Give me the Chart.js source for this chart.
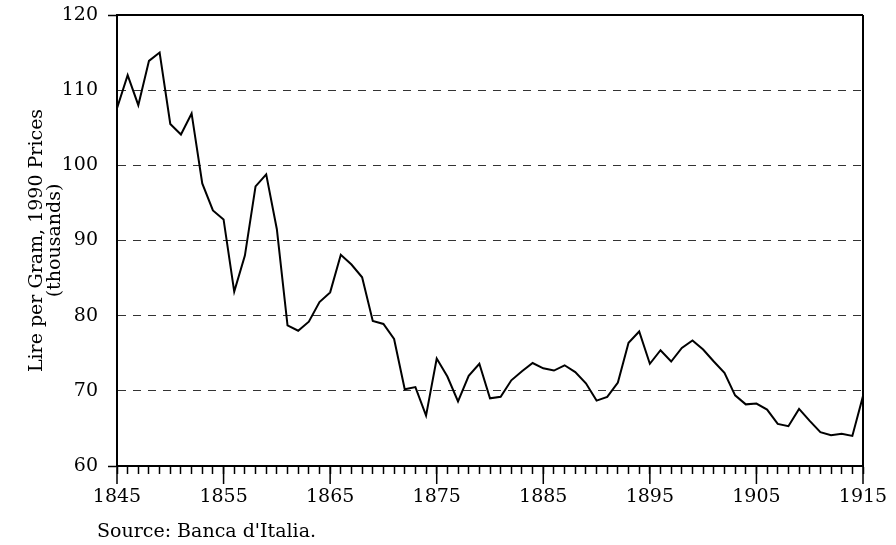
<!DOCTYPE html>
<html>
<head>
<meta charset="utf-8">
<script src="https://cdn.jsdelivr.net/npm/chart.js@4/dist/chart.umd.min.js"></script>
<style>
  html, body { margin: 0; padding: 0; background: #fff; }
  canvas { display: block; }
</style>
</head>
<body>
<canvas id="chart" width="896" height="545"></canvas>
<script>
// yearly series
const years = [
  1845, 1846, 1847, 1848, 1849, 1850, 1851, 1852, 1853, 1854,
  1855, 1856, 1857, 1858, 1859, 1860, 1861, 1862, 1863, 1864,
  1865, 1866, 1867, 1868, 1869, 1870, 1871, 1872, 1873, 1874,
  1875, 1876, 1877, 1878, 1879, 1880, 1881, 1882, 1883, 1884,
  1885, 1886, 1887, 1888, 1889, 1890, 1891, 1892, 1893, 1894,
  1895, 1896, 1897, 1898, 1899, 1900, 1901, 1902, 1903, 1904,
  1905, 1906, 1907, 1908, 1909, 1910, 1911, 1912, 1913, 1914,
  1915
];
const lirePerGram = [
  107.6, 112.0, 108.0, 113.9, 115.0, 105.5, 104.1, 106.9, 97.6, 94.0,
  92.8, 83.2, 88.0, 97.2, 98.8, 91.5, 78.7, 78.0, 79.2, 81.8,
  83.1, 88.1, 86.8, 85.1, 79.3, 78.9, 76.9, 70.2, 70.5, 66.7,
  74.3, 71.9, 68.6, 72.0, 73.6, 69.0, 69.2, 71.4, 72.6, 73.7,
  73.0, 72.7, 73.4, 72.5, 71.0, 68.7, 69.2, 71.1, 76.4, 77.9,
  73.6, 75.4, 73.9, 75.7, 76.7, 75.5, 73.9, 72.4, 69.4, 68.2,
  68.3, 67.5, 65.6, 65.3, 67.6, 66.0, 64.5, 64.1, 64.3, 64.0,
  69.3
];
const xLabelYears = [1845, 1855, 1865, 1875, 1885, 1895, 1905, 1915];
const yTicks = [60, 70, 80, 90, 100, 110, 120];
const yTitle = ['Lire per Gram, 1990 Prices', '(thousands)'];
const sourceNote = "Source: Banca d'Italia.";

const serif = 'DejaVu Serif';

// box on top and right, long ticks at labelled years, source line
const extras = {
  id: 'extras',
  afterDraw(chart) {
    const {ctx, chartArea: a, scales: {x}} = chart;
    ctx.save();
    ctx.strokeStyle = '#000';
    ctx.lineWidth = 2;
    ctx.beginPath();
    ctx.moveTo(a.left, a.top);
    ctx.lineTo(a.right, a.top);
    ctx.moveTo(a.right, a.top);
    ctx.lineTo(a.right, a.bottom);
    ctx.stroke();

    ctx.lineWidth = 1.5;
    ctx.beginPath();
    xLabelYears.forEach(yr => {
      const px = x.getPixelForValue(yr);
      ctx.moveTo(px, a.bottom);
      ctx.lineTo(px, a.bottom + 18);
    });
    ctx.stroke();

    ctx.fillStyle = '#000';
    ctx.font = '19px "' + serif + '"';
    ctx.textAlign = 'left';
    ctx.textBaseline = 'alphabetic';
    ctx.fillText(sourceNote, 97, 537);
    ctx.restore();
  }
};

new Chart(document.getElementById('chart'), {
  type: 'line',
  data: {
    datasets: [{
      data: years.map((yr, i) => ({x: yr, y: lirePerGram[i]})),
      borderColor: '#000',
      borderWidth: 2,
      pointRadius: 0,
      tension: 0,
      fill: false
    }]
  },
  options: {
    responsive: false,
    animation: false,
    layout: { padding: { left: 0, top: 15, right: 33, bottom: 0 } },
    plugins: {
      legend: { display: false },
      tooltip: { enabled: false }
    },
    scales: {
      x: {
        type: 'linear',
        min: 1845,
        max: 1915,
        afterFit(scale) {
          scale.height = 79;
          scale.paddingLeft = 0;
          scale.paddingRight = 0;
        },
        border: { display: true, color: '#000', width: 2 },
        grid: {
          display: true,
          drawOnChartArea: false,
          drawTicks: true,
          tickLength: 8,
          tickColor: '#000',
          tickWidth: 1.5
        },
        ticks: {
          stepSize: 1,
          autoSkip: false,
          maxRotation: 0,
          padding: 12,
          color: '#000',
          font: { family: serif, size: 19 },
          callback: v => xLabelYears.includes(Math.round(v)) ? String(Math.round(v)) : ''
        }
      },
      y: {
        min: 60,
        max: 120,
        afterFit(scale) {
          scale.width = 117;
          scale.paddingTop = 0;
          scale.paddingBottom = 0;
        },
        afterBuildTicks(scale) { scale.ticks = yTicks.map(v => ({value: v})); },
        border: { display: true, color: '#000', width: 2, dash: [8, 7] },
        grid: {
          color: c => (c.tick && (c.tick.value === 60 || c.tick.value === 120)) ? 'rgba(0,0,0,0)' : '#333',
          lineWidth: 1,
          tickLength: 9,
          tickWidth: 1.5,
          tickBorderDash: [],
          tickColor: c => (c.tick && (c.tick.value === 60 || c.tick.value === 120)) ? '#000' : 'rgba(0,0,0,0)'
        },
        ticks: {
          padding: 10,
          color: '#000',
          font: { family: serif, size: 19 }
        },
        title: {
          display: true,
          text: yTitle,
          color: '#000',
          font: { family: serif, size: 19, lineHeight: 0.95 },
          padding: { top: 28, bottom: 0 }
        }
      }
    }
  },
  plugins: [extras]
});
</script>
</body>
</html>
